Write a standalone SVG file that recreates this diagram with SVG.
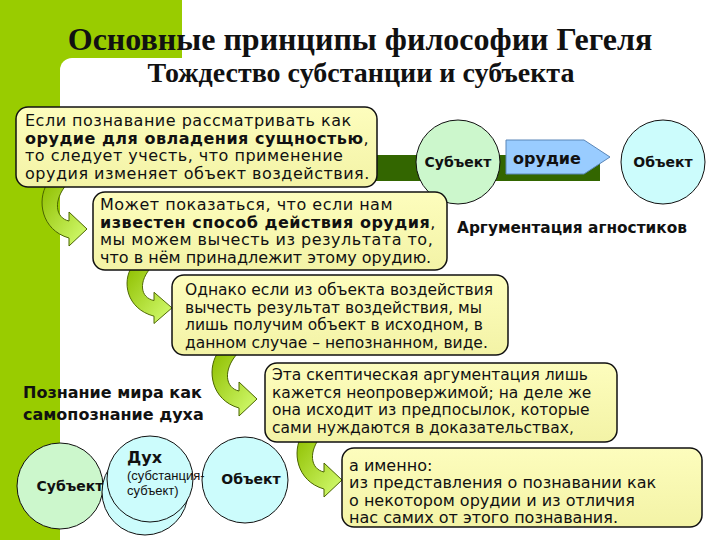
<svg xmlns="http://www.w3.org/2000/svg" width="720" height="540" viewBox="0 0 720 540">
<defs>
<style>
.t{font-family:"DejaVu Sans","Liberation Sans",sans-serif;font-size:16px;fill:#111}
.a{font-family:"Liberation Sans",Arial,sans-serif;font-size:13px;fill:#111}
.w{letter-spacing:0.5px}
.n{font-size:15.5px}
.b{font-weight:bold}
.ttl{font-family:"Liberation Serif","Times New Roman",serif;font-weight:bold;fill:#111;text-anchor:middle}
.box{fill:url(#boxg);stroke:#111;stroke-width:1.5}
.cg{fill:#ccf7cc;stroke:#111;stroke-width:1}
.cc{fill:#ccfcfc;stroke:#111;stroke-width:1}
.ct{font-family:"DejaVu Sans","Liberation Sans",sans-serif;font-weight:bold;font-size:14px;fill:#111;text-anchor:middle}
.arr{fill:url(#arrg);stroke:#4a6400;stroke-width:1}
</style>
<linearGradient id="boxg" x1="0" y1="0" x2="0" y2="1">
<stop offset="0" stop-color="#fdfdbd"/>
<stop offset="1" stop-color="#f3f3a6"/>
</linearGradient>
<linearGradient id="arrg" x1="0" y1="0" x2="1" y2="1">
<stop offset="0" stop-color="#8fbf00"/>
<stop offset="1" stop-color="#d6ff75"/>
</linearGradient>
<path id="carrow" d="M 6,-6 C -4,10 0,40 28,48 L 28,56 L 46,39 L 28,22 L 28,31 C 14,28 12,10 26,-6 Z"/>
</defs>
<rect width="720" height="540" fill="#fff"/>
<g id="background">
<rect x="0" y="0" width="182" height="70" fill="#99cc00"/>
<rect x="0" y="0" width="60" height="540" fill="#99cc00"/>
<rect x="60" y="58" width="700" height="600" rx="12" fill="#fff"/>
</g>
<g id="title">
<text class="ttl" x="360" y="50" font-size="32">Основные принципы философии Гегеля</text>
<text class="ttl" x="361" y="82" font-size="28">Тождество субстанции и субъекта</text>
</g>
<g id="connectors">
<use href="#carrow" class="arr" transform="translate(41,190)"/>
<use href="#carrow" class="arr" transform="translate(126,272) scale(1,0.92)"/>
<use href="#carrow" class="arr" transform="translate(211,360)"/>
<use href="#carrow" class="arr" transform="translate(296,441)"/>
</g>
<g id="agnostic-scheme">
<rect x="360" y="155" width="240" height="26" fill="#336600"/>
<g id="subject-top">
<circle class="cg" cx="458" cy="162" r="42"/>
<text class="ct" x="458" y="167">Субъект</text>
</g>
<g id="tool">
<polygon points="506,140 584,140 610,157 584,174 506,174" fill="#99ccff" stroke="#5a86b8" stroke-width="1"/>
<text class="t b" x="513" y="164" font-size="15.5">орудие</text>
</g>
<g id="object-top">
<circle class="cc" cx="663" cy="162" r="42"/>
<text class="ct" x="663" y="167">Объект</text>
</g>
<text class="t b" x="457" y="233" font-size="14.5" textLength="230" lengthAdjust="spacingAndGlyphs">Аргументация агностиков</text>
</g>
<g id="box1">
<rect class="box" x="16" y="107" width="361" height="80" rx="12"/>
<text class="t w" x="25" y="126">Если познавание рассматривать как</text>
<text class="t w" x="25" y="143.5"><tspan class="b">орудие для овладения сущностью</tspan>,</text>
<text class="t w" x="25" y="161">то следует учесть, что применение</text>
<text class="t w" x="25" y="178.5">орудия изменяет объект воздействия.</text>
</g>
<g id="box2">
<rect class="box" x="93" y="192" width="354" height="78" rx="12"/>
<text class="t w" x="100" y="210">Может показаться, что если нам</text>
<text class="t w" x="100" y="227.5"><tspan class="b">известен способ действия орудия</tspan>,</text>
<text class="t w" x="100" y="245">мы можем вычесть из результата то,</text>
<text class="t" x="100" y="262.5">что в нём принадлежит этому орудию.</text>
</g>
<g id="box3">
<rect class="box" x="172" y="275" width="336" height="80" rx="12"/>
<text class="t n" x="185" y="295">Однако если из объекта воздействия</text>
<text class="t n" x="185" y="312.5">вычесть результат воздействия, мы</text>
<text class="t n" x="185" y="330">лишь получим объект в исходном, в</text>
<text class="t n" x="185" y="347.5">данном случае – непознанном, виде.</text>
</g>
<g id="box4">
<rect class="box" x="265" y="363" width="352" height="79" rx="12"/>
<text class="t n" x="272" y="380">Эта скептическая аргументация лишь</text>
<text class="t n" x="272" y="397.5">кажется неопровержимой; на деле же</text>
<text class="t n" x="272" y="415">она исходит из предпосылок, которые</text>
<text class="t n" x="272" y="432.5">сами нуждаются в доказательствах,</text>
</g>
<g id="box5">
<rect class="box" x="342" y="448" width="360" height="79" rx="12"/>
<text class="t" x="349" y="470.5">а именно:</text>
<text class="t" x="349" y="488">из представления о познавании как</text>
<text class="t" x="349" y="505.5">о некотором орудии и из отличия</text>
<text class="t" x="349" y="523">нас самих от этого познавания.</text>
</g>
<g id="spirit-label">
<text class="t b" x="23" y="398" font-size="15">Познание мира как</text>
<text class="t b" x="23" y="420" font-size="15">самопознание духа</text>
</g>
<g id="subject-bottom">
<circle class="cg" cx="60" cy="486" r="43"/>
</g>
<g id="object-bottom">
<circle class="cc" cx="245" cy="480" r="43"/>
<text class="ct" x="251" y="484">Объект</text>
</g>
<g id="spirit">
<circle class="cc" cx="145" cy="492" r="43"/>
<circle class="cc" cx="150" cy="479" r="43"/>
<text class="t b" x="127" y="463" font-size="15">Дух</text>
<text class="a" x="127" y="480">(субстанция-</text>
<text class="a" x="127" y="495">субъект)</text>
</g>
<text class="ct" x="70" y="491">Субъект</text>
</svg>
